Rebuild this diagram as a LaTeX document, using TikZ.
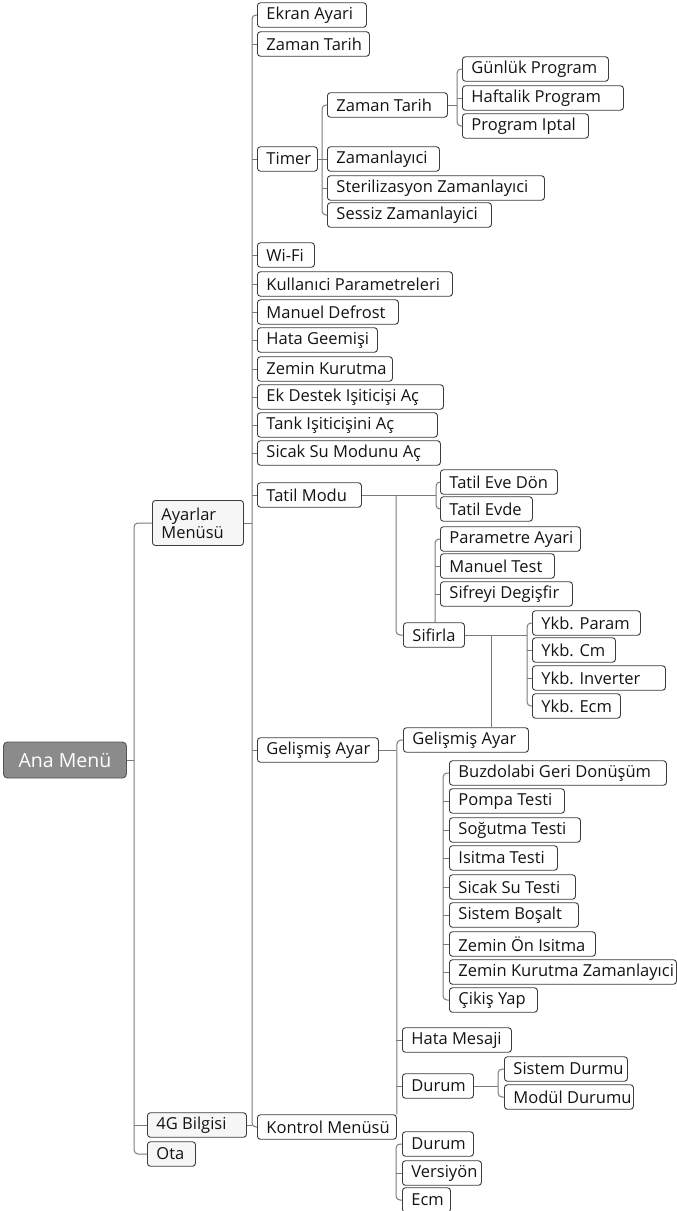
\documentclass[tikz,border=0pt]{standalone}
\usepackage{fontspec}
\setmainfont{Open Sans}
\definecolor{boxc}{HTML}{3C3C3C}
\definecolor{linec}{HTML}{7A7A7A}
\definecolor{txtc}{HTML}{141414}
\definecolor{anafill}{HTML}{8B8B8B}
\definecolor{anaborder}{HTML}{555555}
\definecolor{lightfill}{HTML}{F6F6F6}
\tikzset{
  box/.style={draw=boxc, line width=0.9pt, rounded corners=3pt, fill=white, text=txtc,
    inner xsep=9pt, inner ysep=0pt, minimum height=24.5pt, anchor=west,
    font=\fontsize{16.5}{18}\selectfont},
  conn/.style={draw=linec, line width=1pt, rounded corners=4pt},
}
\newcommand\bx[6][]{\node[box,#1] (#2) at (#3,#5) {\makebox[\dimexpr #4pt-#3pt-18pt\relax][l]{#6}};}
\newcommand\brk[3]{\draw[conn] (#1.west) -| (#3) |- (#2.west);}
\newcommand\tick[2]{\draw[conn] (#1 |- #2.west) -- (#2.west);}
\begin{document}
\begin{tikzpicture}[x=1pt,y=-1pt]
\useasboundingbox (0,0) rectangle (677,1211);
% root
\node[draw=anaborder, fill=anafill, text=white, line width=0.9pt, rounded corners=4pt,
  minimum width=123pt, minimum height=36pt, inner sep=0pt, anchor=west,
  font=\fontsize{19.5}{21}\selectfont] (ana) at (3,760) {Ana Menü};
% level 1
\node[box, fill=lightfill, minimum height=45pt, text width=73pt, align=left] (ay) at (152,523) {Ayarlar\\Menüsü};
\bx[fill=lightfill]{g4}{147}{246}{1125}{4G Bilgisi}
\bx[fill=lightfill]{ota}{147}{195}{1154}{Ota}
% level 2
\bx{ekran}{257}{366}{15}{Ekran Ayari}
\bx{zt1}{257}{369}{44}{Zaman Tarih}
\bx{timer}{257}{317}{159}{Timer}
\bx{wifi}{257}{314}{255}{Wi-Fi}
\bx{kull}{257}{452}{284}{Kullanıci Parametreleri}
\bx{mdef}{257}{398}{312}{Manuel Defrost}
\bx{hata}{257}{377}{340}{Hata Geemişi}
\bx{zk}{257}{392}{369}{Zemin Kurutma}
\bx{ek}{257}{443}{397}{Ek Destek Işiticişi Aç}
\bx{tank}{257}{437}{425}{Tank Işiticişini Aç}
\bx{sic}{257}{440}{453}{Sicak Su Modunu Aç}
\bx{tatil}{257}{361}{495}{Tatil Modu}
\bx{gel2}{257}{378}{750}{Gelişmiş Ayar}
\bx{km}{257}{396}{1127}{Kontrol Menüsü}
% timer children
\bx{zt2}{327}{447}{105}{Zaman Tarih}
\bx{zam}{327}{439}{159}{Zamanlayıci}
\bx{ster}{327}{544}{188}{Sterilizasyon Zamanlayıci}
\bx{ses}{327}{491}{215}{Sessiz Zamanlayici}
\bx{gun}{462}{608}{69}{Günlük Program}
\bx{haf}{462}{623}{98}{Haftalik Program}
\bx{pi}{462}{588}{126}{Program Iptal}
% tatil
\bx{ted}{440}{557}{482}{Tatil Eve Dön}
\bx{tev}{440}{532}{509}{Tatil Evde}
\bx{par}{440}{580}{539}{Parametre Ayari}
\bx{mt}{440}{554}{566}{Manuel Test}
\bx{sd}{440}{572}{594}{Sifreyi Degişfir}
\bx{sif}{403}{464}{635}{Sifirla}
\bx{yp}{532}{640}{623}{Ykb. Param}
\bx{yc}{532}{615}{650}{Ykb. Cm}
\bx{yi}{532}{665}{678}{Ykb. Inverter}
\bx{ye}{532}{620}{706}{Ykb. Ecm}
\bx{gel3}{403}{528}{740}{Gelişmiş Ayar}
% tests
\bx{buz}{449}{666}{773}{Buzdolabi Geri Donüşüm}
\bx{pom}{449}{564}{801}{Pompa Testi}
\bx{sog}{449}{580}{830}{Soğutma Testi}
\bx{isi}{449}{557}{858}{Isitma Testi}
\bx{sst}{449}{575}{887}{Sicak Su Testi}
\bx{sb}{449}{578}{915}{Sistem Boşalt}
\bx{zo}{449}{595}{944}{Zemin Ön Isitma}
\bx{zkz}{449}{676}{972}{Zemin Kurutma Zamanlayıci}
\bx{cik}{449}{537}{1000}{Çikiş Yap}
\bx{hm}{402}{511}{1040}{Hata Mesaji}
\bx{dur}{402}{473}{1086}{Durum}
\bx{sdm}{504}{627}{1069}{Sistem Durmu}
\bx{mod}{504}{633}{1097}{Modül Durumu}
\bx{dur2}{402}{473}{1144}{Durum}
\bx{ver}{402}{481}{1173}{Versiyön}
\bx{ecm}{402}{450}{1200}{Ecm}
% junctions
\coordinate (jTr) at (134,760);
\coordinate (j2) at (252,523);
\coordinate (jTi) at (322,159);
\coordinate (jZ) at (457,105);
\coordinate (jTa) at (436,495);
\coordinate (jTs) at (396,495);
\coordinate (jSu) at (435,600);
\coordinate (jY) at (527,650);
\coordinate (jGd) at (491,635);
\coordinate (jG) at (396,750);
\coordinate (jB) at (443,880);
\coordinate (jD) at (498,1086);
\coordinate (jL) at (396,1170);
% connectors
\draw[conn] (ana.east) -- (jTr);
\brk{ay}{ota}{jTr}
\tick{jTr}{g4}
\draw[conn] (ay.east) -- (j2);
\draw[conn] (g4.east) -- (g4.east -| j2);
\brk{ekran}{km}{j2}
\foreach \n in {zt1,timer,wifi,kull,mdef,hata,zk,ek,tank,sic,tatil,gel2} {\tick{j2}{\n}}
\draw[conn] (timer.east) -- (jTi);
\brk{zt2}{ses}{jTi}
\tick{jTi}{zam}\tick{jTi}{ster}
\draw[conn] (zt2.east) -- (jZ);
\brk{gun}{pi}{jZ}
\tick{jZ}{haf}
\draw[conn] (tatil.east) -- (jTa);
\brk{ted}{tev}{jTa}
\draw[conn] (jTs) |- (sif.west);
\draw[conn] (sif.north -| jSu) |- (par.west);
\tick{jSu}{mt}\tick{jSu}{sd}
\draw[conn] (sif.east) -- (sif.east -| jY);
\brk{yp}{ye}{jY}
\tick{jY}{yc}\tick{jY}{yi}
\draw[conn] (jGd) -- (gel3.north -| jGd);
\draw[conn] (gel2.east) -- (jG);
\draw[conn] (gel3.west) -| (km.north east);
\tick{jG}{hm}\tick{jG}{dur}
\brk{buz}{cik}{jB}
\foreach \n in {pom,sog,isi,sst,sb,zo,zkz} {\tick{jB}{\n}}
\draw[conn] (dur.east) -- (jD);
\brk{sdm}{mod}{jD}
\brk{dur2}{ecm}{jL}
\tick{jL}{ver}
\end{tikzpicture}
\end{document}
